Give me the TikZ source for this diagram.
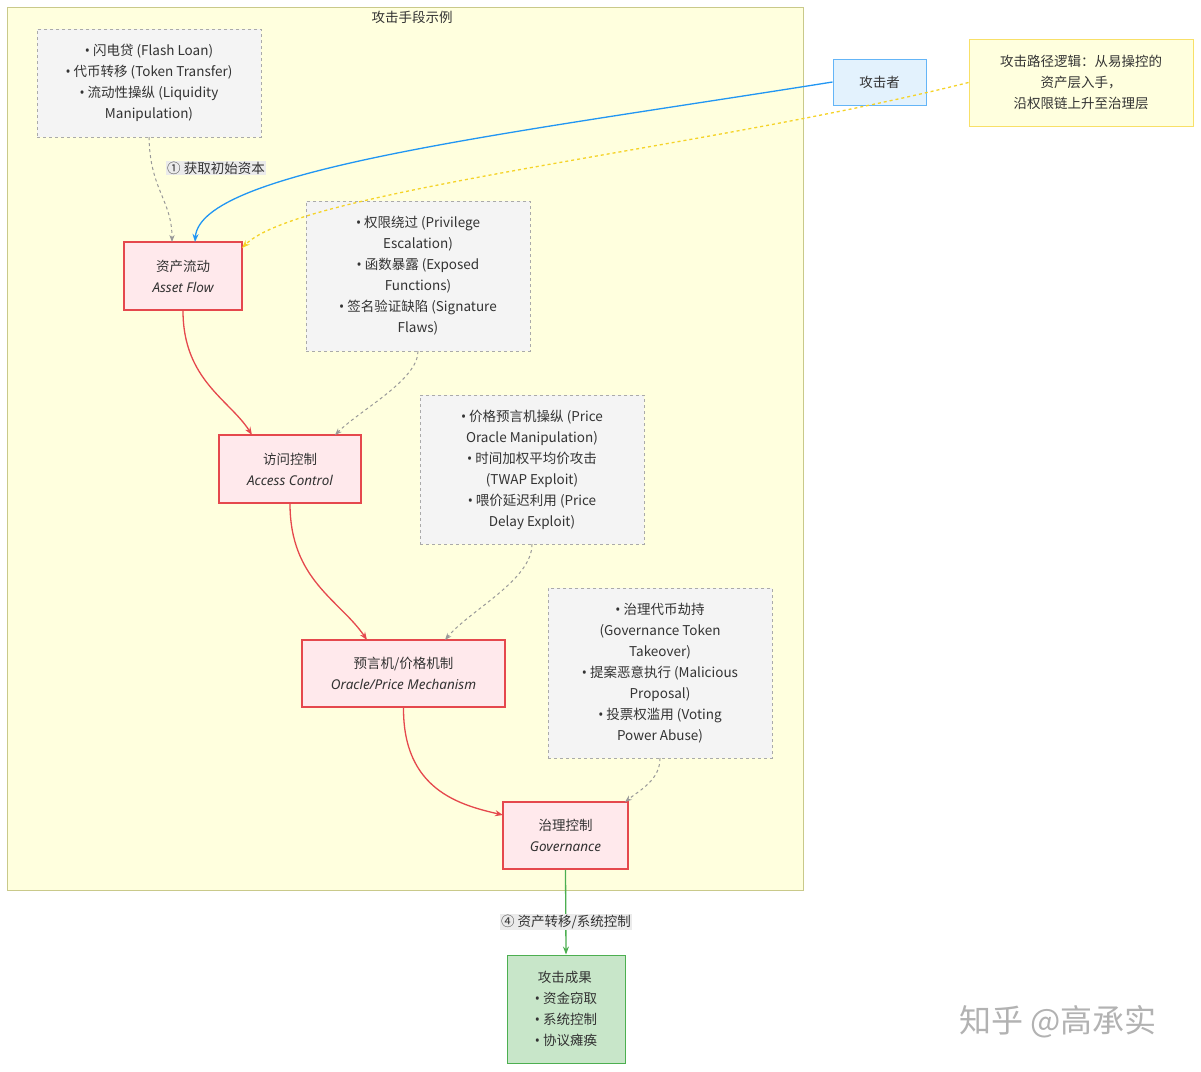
\documentclass[tikz,border=0pt]{standalone}
\usepackage{fontspec}
\setmainfont{Noto Sans CJK SC}
\newfontfamily\enfont{Noto Sans}
\newcommand{\bu}{{\enfont•}\ }
\usetikzlibrary{arrows.meta}
\definecolor{clfill}{HTML}{FFFFDE}
\definecolor{clline}{HTML}{C9C98A}
\definecolor{notefill}{HTML}{F4F4F4}
\definecolor{noteline}{HTML}{AAAAAA}
\definecolor{redfill}{HTML}{FFE9EC}
\definecolor{redline}{HTML}{E5484D}
\definecolor{grfill}{HTML}{C8E6C9}
\definecolor{grline}{HTML}{4CAF50}
\definecolor{blfill}{HTML}{E3F2FD}
\definecolor{blline}{HTML}{2196F3}
\definecolor{ylline}{HTML}{F5D327}
\definecolor{txt}{HTML}{333333}
\begin{document}
\begin{tikzpicture}[x=1pt,y=-1pt,
  every node/.style={font=\fontsize{13.5}{21}\selectfont,text=txt},
  note/.style={draw=noteline,dashed,fill=notefill,align=center,inner sep=0},
  redbox/.style={draw=redline,line width=1.3pt,fill=redfill,align=center,inner sep=0},
  dashedge/.style={draw=noteline!90!black,dashed,line width=1pt,-{Stealth[length=7pt]}},
  redge/.style={draw=redline,line width=1.3pt,-{Stealth[length=8pt]}},
  lbl/.style={fill=black!8,inner sep=1pt}]
\useasboundingbox (0,0) rectangle (1201,1071);
\fill[white] (0,0) rectangle (1201,1071);
\draw[clline,fill=clfill] (7,7) rectangle (803,890);
\node at (412,17) {攻击手段示例};
% notes
\node[note,minimum width=224,minimum height=108] (n1) at (149,83) {\bu 闪电贷 (Flash Loan)\\\bu 代币转移 (Token Transfer)\\\bu 流动性操纵 (Liquidity\\Manipulation)};
\node[note,minimum width=224,minimum height=150] (n2) at (418,276) {\bu 权限绕过 (Privilege\\Escalation)\\\bu 函数暴露 (Exposed\\Functions)\\\bu 签名验证缺陷 (Signature\\Flaws)};
\node[note,minimum width=224,minimum height=149] (n3) at (532,469.5) {\bu 价格预言机操纵 (Price\\Oracle Manipulation)\\\bu 时间加权平均价攻击\\(TWAP Exploit)\\\bu 喂价延迟利用 (Price\\Delay Exploit)};
\node[note,minimum width=224,minimum height=170] (n4) at (660,673) {\bu 治理代币劫持\\(Governance Token\\Takeover)\\\bu 提案恶意执行 (Malicious\\Proposal)\\\bu 投票权滥用 (Voting\\Power Abuse)};
% main boxes
\node[redbox,minimum width=118,minimum height=68] (a) at (183,276) {资产流动\\{\enfont\itshape Asset Flow}};
\node[redbox,minimum width=142,minimum height=68] (b) at (290,469) {访问控制\\{\enfont\itshape Access Control}};
\node[redbox,minimum width=203,minimum height=67] (c) at (403.5,673.5) {预言机/价格机制\\{\enfont\itshape Oracle/Price Mechanism}};
\node[redbox,minimum width=125,minimum height=67] (d) at (565.5,835.5) {治理控制\\{\enfont\itshape Governance}};
\node[draw=grline,line width=1pt,fill=grfill,align=left,minimum width=118,minimum height=108,inner sep=0] (r) at (566,1009) {\hspace*{3pt}攻击成果\\\bu 资金窃取\\\bu 系统控制\\\bu 协议瘫痪};
\node[draw=blline!70,line width=1pt,fill=blfill,minimum width=93,minimum height=46,inner sep=0] (att) at (879.5,82) {攻击者};
\node[draw=ylline!70,line width=1pt,fill=clfill,align=center,minimum width=224,minimum height=87,inner sep=0] (lg) at (1081,82.5) {攻击路径逻辑：从易操控的\\资产层入手，\\沿权限链上升至治理层};
% edges
\draw[dashedge] (n1.south) .. controls (150,190) and (172,200) .. (172,242);
\node[lbl] (l1) at (216,168) {① 获取初始资本};
\draw[draw=blline,line width=1.3pt,-{Stealth[length=8pt]}] (att.west) .. controls (500,135) and (200,170) .. (195,242);
\draw[draw=ylline,dashed,line width=1.3pt,-{Stealth[length=8pt]}] (lg.west) .. controls (700,150) and (300,190) .. (242,248);
\draw[redge] (a.south) .. controls (183,380) and (230,400) .. (252,435);
\draw[dashedge] (n2.south) .. controls (418,380) and (360,410) .. (335,435);
\draw[redge] (b.south) .. controls (290,580) and (340,600) .. (367,640);
\draw[dashedge] (n3.south) .. controls (532,580) and (470,610) .. (445,640);
\draw[redge] (c.south) .. controls (403,790) and (460,805) .. (503,815);
\draw[dashedge] (n4.south) .. controls (660,780) and (640,790) .. (625,802);
\draw[draw=grline,line width=1.3pt,-{Stealth[length=8pt]}] (d.south) -- (r.north);
\node[lbl] (l2) at (566,922) {④ 资产转移/系统控制};
\node[text=black!30,font=\fontsize{32}{36}\selectfont] (wm) at (1058,1022) {知乎 @高承实};
\end{tikzpicture}
\end{document}
